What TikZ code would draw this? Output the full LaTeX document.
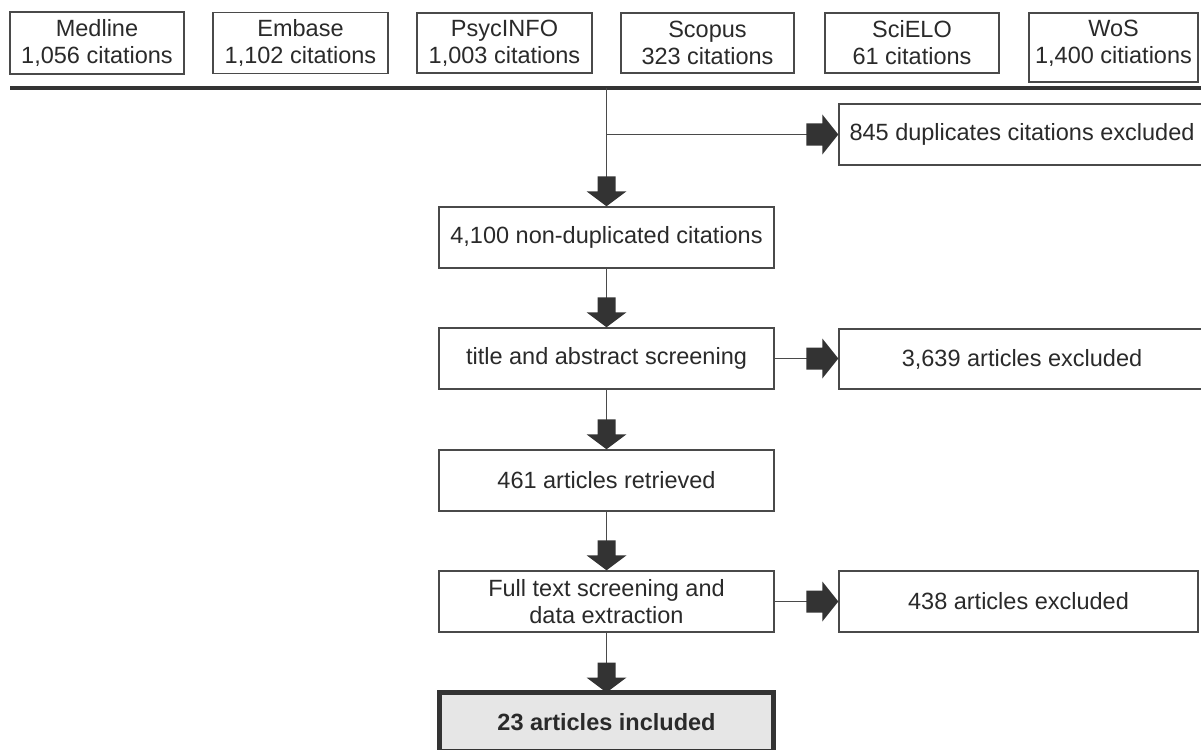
\documentclass[tikz,border=0pt]{standalone}
\usepackage{fontspec}
\setmainfont{Liberation Sans}
\definecolor{linec}{HTML}{4A4A4A}
\definecolor{textc}{HTML}{2A2A2A}
\definecolor{arrowc}{HTML}{333333}
\definecolor{finalfill}{HTML}{E6E6E6}
\begin{document}
\begin{tikzpicture}[x=1pt,y=-1pt,
  box/.style={draw=linec, line width=1.4pt, fill=white, text=textc,
    inner sep=0pt, align=center, font=\fontsize{23.5}{27}\selectfont},
  boxtext/.style={text=textc, inner sep=0pt, align=center, font=\fontsize{23.5}{27}\selectfont},
  conn/.style={draw=linec, line width=1.6pt},
  pics/downhead/.style={code={
    \fill[arrowc] (0,0) -- (-20,-15) -- (-9,-15) -- (-9,-30) -- (9,-30)
      -- (9,-15) -- (20,-15) -- cycle;}},
  pics/righthead/.style={code={
    \fill[arrowc] (0,0) -- (-16,-20) -- (-16,-11) -- (-32,-11) -- (-32,11)
      -- (-16,11) -- (-16,20) -- cycle;}}
]
\useasboundingbox (0,0) rectangle (1201,749);

% database sources
\node[box, minimum width=174pt, minimum height=62pt] (medline) at (97,43) {Medline\\1,056 citations};
\node[box, minimum width=175pt, minimum height=61pt] (embase) at (300.5,43) {Embase\\1,102 citations};
\node[box, minimum width=175pt, minimum height=60pt] (psyc) at (504.5,43) {PsycINFO\\1,003 citations};
\node[box, minimum width=173pt, minimum height=60pt] (scopus) at (707.5,43) {Scopus\\323 citations};
\node[box, minimum width=174pt, minimum height=60pt] (scielo) at (912,43) {SciELO\\61 citations};
% taller box; its text sits level with the neighbouring boxes
\node[box, minimum width=169pt, minimum height=69pt] (wos) at (1113.5,47.5) {};
\node[boxtext] (wostext) at (1113.5,43) {WoS\\1,400 citiations};

% collecting bar
\coordinate (busL) at (10,88);
\coordinate (busR) at (1201,88);
\draw[arrowc, line width=4pt] (busL) -- (busR);

% main flow boxes
\node[box, minimum width=335pt, minimum height=61pt] (nondup) at (606.5,237.5) {4,100 non-duplicated citations};
\node[box, minimum width=335pt, minimum height=61pt] (title) at (606.5,358.5) {title and abstract screening};
\node[box, minimum width=335pt, minimum height=61pt] (retr) at (606.5,480.5) {461 articles retrieved};
\node[box, minimum width=335pt, minimum height=61pt] (full) at (606.5,601.5) {Full text screening and\\data extraction};
\node[box, draw=arrowc, line width=5pt, fill=finalfill, minimum width=334pt, minimum height=59pt,
  font=\fontsize{23.5}{27}\selectfont\bfseries] (incl) at (606.5,722) {23 articles included};

% exclusion boxes
\node[box, minimum width=366pt, minimum height=61pt] (dup) at (1022,134.5) {845 duplicates citations excluded};
\node[box, minimum width=366pt, minimum height=60pt] (exc1) at (1022,359) {3,639 articles excluded};
\node[box, minimum width=359pt, minimum height=61pt] (exc2) at (1018.5,601.5) {438 articles excluded};

% connectors
\coordinate (busT) at (606.5,88);
\coordinate (split) at (606.5,134.5);
\draw[conn] (busT) -- (nondup.north);
\draw[conn] (split) -- (dup.west);
\draw[conn] (nondup.south) -- (title.north);
\draw[conn] (title.east) -- (exc1.west |- title.east);
\draw[conn] (title.south) -- (retr.north);
\draw[conn] (retr.south) -- (full.north);
\draw[conn] (full.east) -- (exc2.west);
\draw[conn] (full.south) -- (incl.north);

% block arrow heads
\pic at (nondup.north) {downhead};
\pic at (title.north) {downhead};
\pic at (retr.north) {downhead};
\pic at (full.north) {downhead};
\pic at ([yshift=-2.5pt]incl.north) {downhead};
\pic at (dup.west) {righthead};
\pic at (exc1.west |- title.east) {righthead};
\pic at (exc2.west) {righthead};
\end{tikzpicture}
\end{document}
